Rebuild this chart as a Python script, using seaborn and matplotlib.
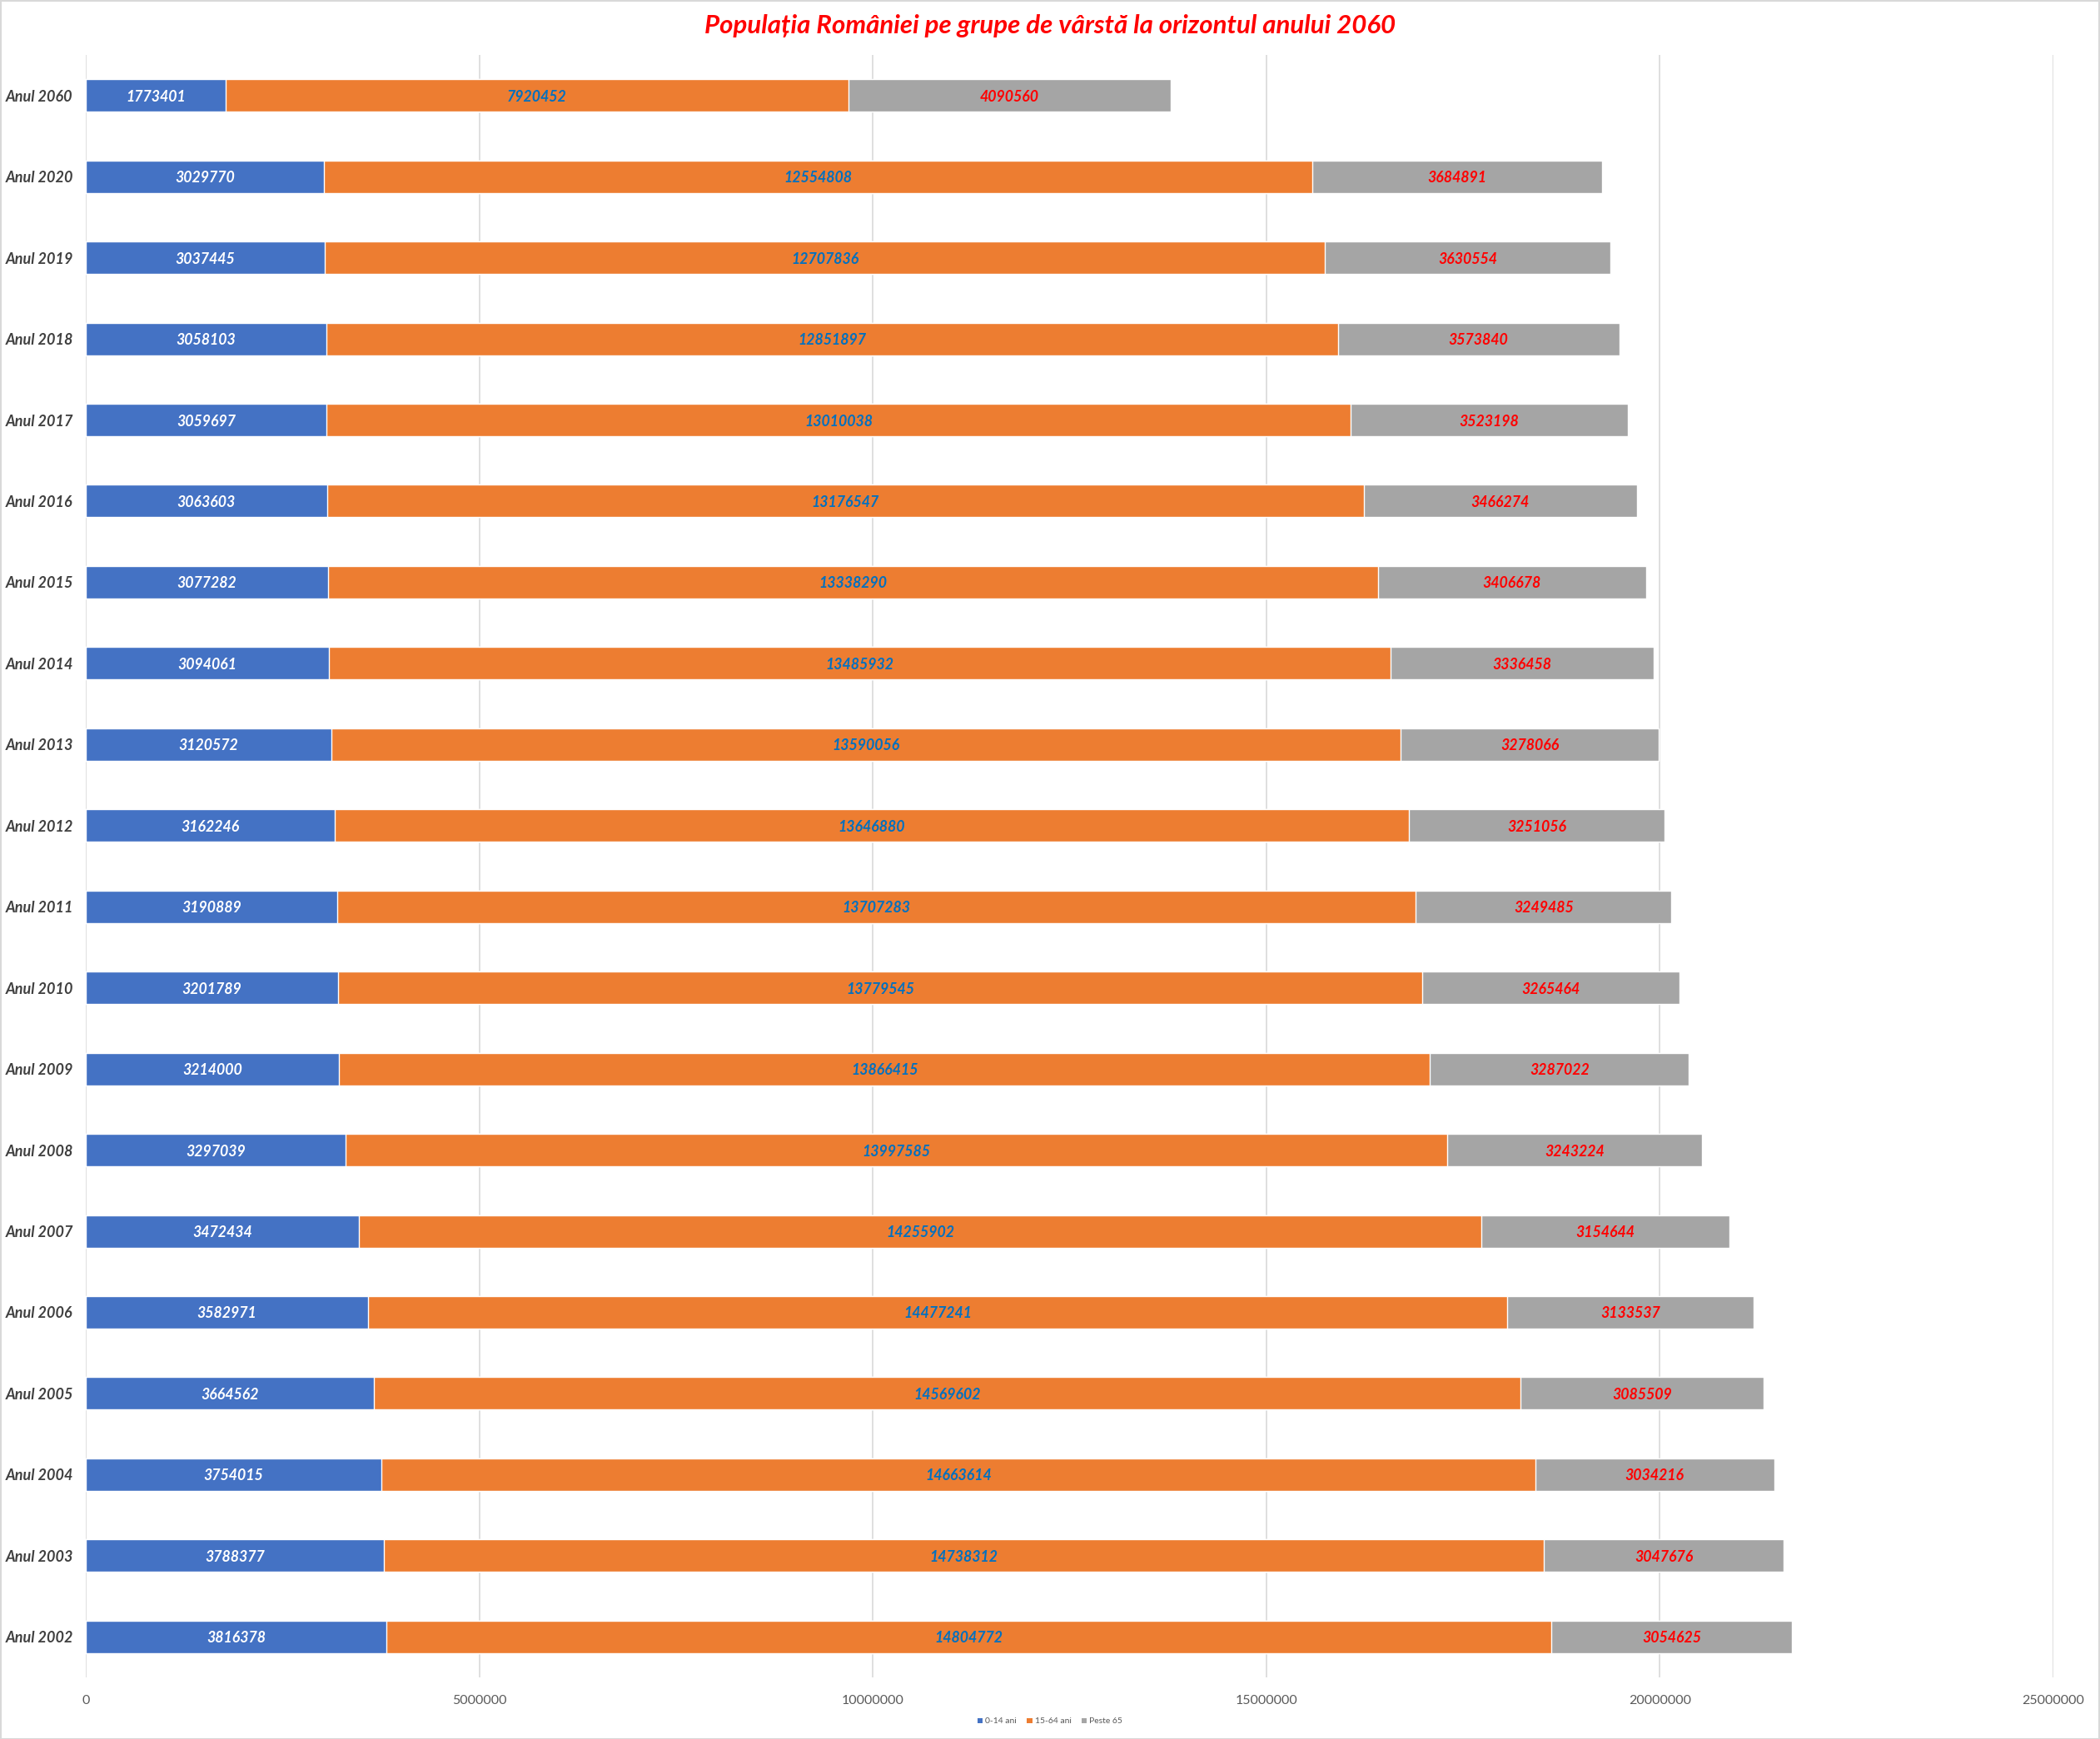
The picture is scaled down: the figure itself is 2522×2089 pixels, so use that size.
import numpy as np
import pandas as pd
import seaborn as sns
import matplotlib.pyplot as plt
from matplotlib.patches import Patch, Rectangle

# data (top row first)
YEARS = ['Anul 2060', 'Anul 2020', 'Anul 2019', 'Anul 2018', 'Anul 2017', 'Anul 2016',
         'Anul 2015', 'Anul 2014', 'Anul 2013', 'Anul 2012', 'Anul 2011', 'Anul 2010',
         'Anul 2009', 'Anul 2008', 'Anul 2007', 'Anul 2006', 'Anul 2005', 'Anul 2004',
         'Anul 2003', 'Anul 2002']
AGE_0_14 = [1773401, 3029770, 3037445, 3058103, 3059697, 3063603, 3077282, 3094061,
            3120572, 3162246, 3190889, 3201789, 3214000, 3297039, 3472434, 3582971,
            3664562, 3754015, 3788377, 3816378]
AGE_15_64 = [7920452, 12554808, 12707836, 12851897, 13010038, 13176547, 13338290, 13485932,
             13590056, 13646880, 13707283, 13779545, 13866415, 13997585, 14255902, 14477241,
             14569602, 14663614, 14738312, 14804772]
AGE_65 = [4090560, 3684891, 3630554, 3573840, 3523198, 3466274, 3406678, 3336458,
          3278066, 3251056, 3249485, 3265464, 3287022, 3243224, 3154644, 3133537,
          3085509, 3034216, 3047676, 3054625]
SERIES = ['0-14 ani', '15-64 ani', 'Peste 65']
X_TICKS = [0, 5000000, 10000000, 15000000, 20000000, 25000000]
TITLE = 'Populația României pe grupe de vârstă la orizontul anului 2060'

COLORS = ['#4472C4', '#ED7D31', '#A5A5A5']
LABEL_COLORS = ['white', '#0070C0', '#FF0000']

df = pd.DataFrame({'an': YEARS, 'a': AGE_0_14, 'b': AGE_15_64, 'c': AGE_65})
df['ab'] = df['a'] + df['b']
df['abc'] = df['ab'] + df['c']

sns.set_theme(style='white')
plt.rcParams['font.family'] = ['Lato', 'DejaVu Sans']

W, H = 2522, 2089
fig = plt.figure(figsize=(W / 100, H / 100), dpi=100)
ax = fig.add_axes([103 / W, 1 - 2015 / H, (2466 - 103) / W, (2015 - 66) / H])

# stacked bars: draw cumulative totals from the longest to the shortest
for col, color in zip(['abc', 'ab', 'a'], COLORS[::-1]):
    sns.barplot(data=df, x=col, y='an', orient='h', color=color, width=0.4,
                saturation=1, ax=ax, zorder=3)

# segment labels in the middle of each piece
lefts = [np.zeros(len(df)), df['a'].values, df['ab'].values]
for vals, left, lc in zip([df['a'], df['b'], df['c']], lefts, LABEL_COLORS):
    for i, (v, l) in enumerate(zip(vals.values, left)):
        ax.text(l + v / 2, i, str(v), ha='center', va='center_baseline', color=lc,
                fontsize=12.8, fontweight='bold', fontstyle='italic', zorder=4)

ax.set_xlim(0, 25000000)
ax.set_xticks(X_TICKS)
ax.set_xticklabels([str(t) for t in X_TICKS])
ax.set_xlabel('')
ax.set_ylabel('')
ax.grid(axis='x', color='#D9D9D9', linewidth=1.2, zorder=0)
ax.grid(axis='y', visible=False)
for s in ax.spines.values():
    s.set_visible(False)
ax.tick_params(axis='x', length=0, pad=15, labelsize=11.5, labelcolor='#595959')
ax.tick_params(axis='y', length=0, pad=11, labelsize=13, labelcolor='#404040')
for t in ax.get_yticklabels():
    t.set_fontstyle('italic')
    t.set_fontweight('bold')
    t.set_verticalalignment('center_baseline')

fig.text(0.5, 1 - 31 / H, TITLE, ha='center', va='center', color='#FF0000',
         fontsize=22.5, fontweight='bold', fontstyle='italic')

handles = [Patch(facecolor=c, edgecolor='none') for c in COLORS]
fig.legend(handles, SERIES, loc='center', bbox_to_anchor=(0.5, 1 - 2068 / H), ncol=3,
           frameon=False, fontsize=7.5, handlelength=0.6, handleheight=0.6,
           handletextpad=0.3, columnspacing=1.2, labelcolor='#595959')

# thin chart border
fig.patches.append(Rectangle((0.5 / W, 0.5 / H), 1 - 1.5 / W, 1 - 1.5 / H, transform=fig.transFigure,
                             fill=False, edgecolor='#D9D9D9', linewidth=1.5))

fig.savefig('out.png', dpi=100, facecolor='white')
